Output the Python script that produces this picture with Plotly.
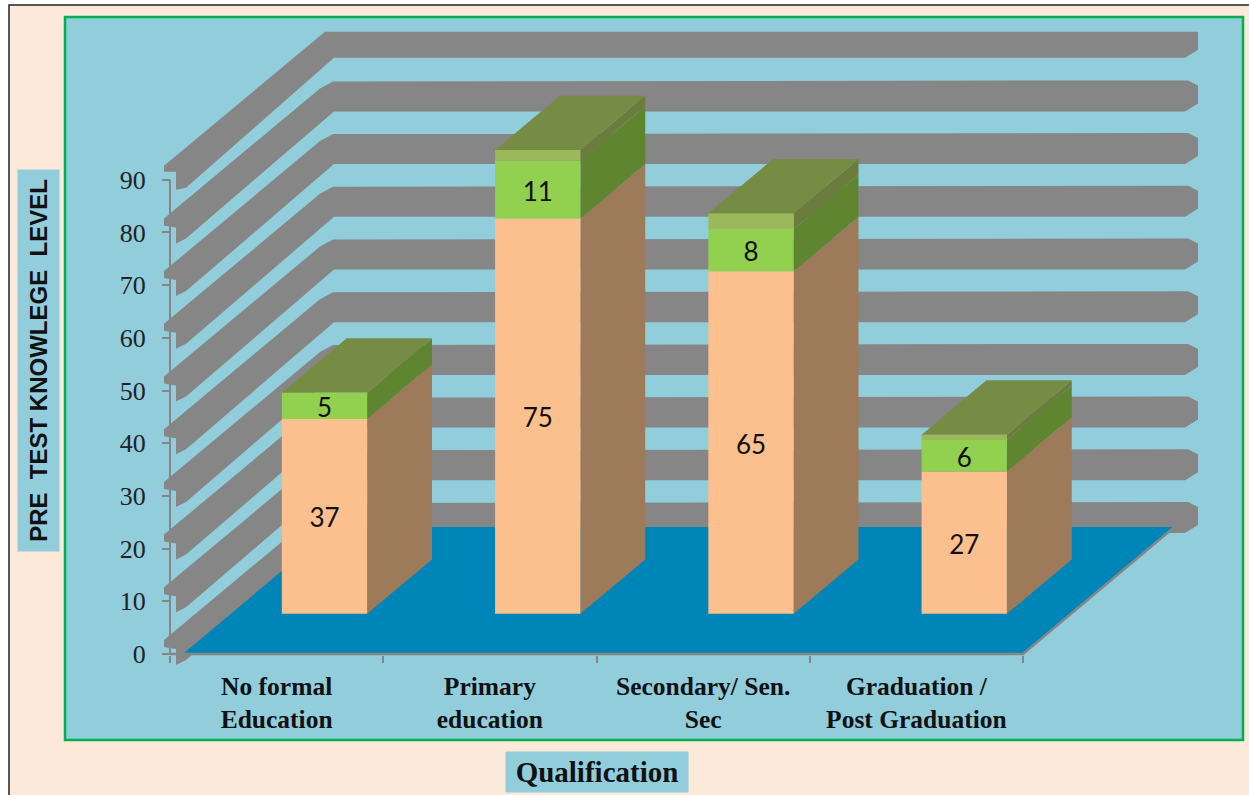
import plotly.graph_objects as go

# Chart data
categories = ["No formal<br>Education", "Primary<br>education",
              "Secondary/ Sen.<br>Sec", "Graduation /<br>Post Graduation"]
series_low = [37, 75, 65, 27]
series_mid = [5, 11, 8, 6]
series_top = [0, 2, 3, 1]
value_ticks = [0, 10, 20, 30, 40, 50, 60, 70, 80, 90]

WIDTH, HEIGHT = 1249, 795
AXIS_LEFT, AXIS_BOTTOM = 170, 654      # where category 0 / value 0 meet on the page
PX_PER_CAT, PX_PER_VAL = 213.25, 5.27  # axis scales

# Oblique projection: depth d runs 0 (front) to 1 (back wall)
DEPTH_X = 151.5 / PX_PER_CAT
DEPTH_Y = 127 / PX_PER_VAL
BAR_D0, BAR_D1 = 0.316, 0.744
BAR_X0, BAR_X1 = 0.30, 0.70
LABEL_DROP = 4.5 / PX_PER_VAL  # nudges value labels onto the optical centre of a segment


def project(c, v, d=0.0):
    return c + DEPTH_X * d, v + DEPTH_Y * d


def poly(points, color):
    xs, ys = zip(*points)
    return go.Scatter(x=list(xs) + [xs[0]], y=list(ys) + [ys[0]], mode="lines",
                      fill="toself", fillcolor=color, line=dict(width=0),
                      hoverinfo="skip", showlegend=False)


# Gridband outline around each tick, as offsets along the two axes
BAND_OUTLINE = [(-6, 14), (150, 144), (163, 151), (1018, 152), (1028, 147),
                (1028, 129), (1015, 121), (164, 121), (16, -6), (6, -11),
                (6, 5), (-6, 7)]
TOP_BAND_OUTLINE = [(-6, 14), (155, 148), (1028, 148), (1028, 130),
                    (1015, 122), (164, 122), (16, -8), (6, -10), (6, 8), (-6, 8)]


def band(level, outline):
    return poly([(dx / PX_PER_CAT, level + dy / PX_PER_VAL) for dx, dy in outline], "#868686")


fig = go.Figure()

for tick in value_ticks:
    outline = TOP_BAND_OUTLINE if tick == value_ticks[-1] else BAND_OUTLINE
    fig.add_trace(band(tick, outline))

# Floor
n = len(categories)
fig.add_trace(poly([project(0.06, 0), project(n, 0), project(n, 0, 1), project(0.06, 0, 1)], "#0085B8"))

# Axis lines and the floor's right edge
fig.add_trace(go.Scatter(x=[0, 0], y=[0, value_ticks[-1]], mode="lines",
                         line=dict(color="#868686", width=2), hoverinfo="skip", showlegend=False))
edge = [project(0, 0), project(n, 0), project(n, 0, 1)]
fig.add_trace(go.Scatter(x=[p[0] for p in edge], y=[p[1] for p in edge], mode="lines",
                         line=dict(color="#868686", width=2.5), hoverinfo="skip", showlegend=False))

# Stacked columns: side faces, front faces, then the lid
FRONT = ["#FCC08E", "#92D050", "#9BB95A"]
SIDE = ["#9C7A5A", "#5F8530", "#6B7C3E"]
LID = "#768C44"

label_x, label_y, label_text = [], [], []
for i in range(n):
    stack = [series_low[i], series_mid[i], series_top[i]]
    base = 0
    x0, x1 = i + BAR_X0, i + BAR_X1
    for seg, value in enumerate(stack):
        top = base + value
        if value > 0:
            fig.add_trace(poly([project(x1, base, BAR_D0), project(x1, base, BAR_D1),
                                project(x1, top, BAR_D1), project(x1, top, BAR_D0)], SIDE[seg]))
            fig.add_trace(poly([project(x0, base, BAR_D0), project(x1, base, BAR_D0),
                                project(x1, top, BAR_D0), project(x0, top, BAR_D0)], FRONT[seg]))
            if seg < 2:
                lx, ly = project((x0 + x1) / 2, base + value / 2, BAR_D0)
                label_x.append(lx)
                label_y.append(ly - LABEL_DROP)
                label_text.append(str(value))
        base = top
    fig.add_trace(poly([project(x0, base, BAR_D0), project(x1, base, BAR_D0),
                        project(x1, base, BAR_D1), project(x0, base, BAR_D1)], LID))

fig.add_trace(go.Scatter(x=label_x, y=label_y, text=label_text, mode="text",
                         textfont=dict(family="Lato", size=26, color="#111111"),
                         hoverinfo="skip", showlegend=False))

PEACH = "#FDE9D9"
PANEL = "#92CDDC"


def px_x(p):
    return p / WIDTH


def px_y(p):
    return 1 - p / HEIGHT


bold_categories = ["<br>".join(f"<b>{part}</b>" for part in c.split("<br>")) for c in categories]

fig.update_layout(
    width=WIDTH, height=HEIGHT, margin=dict(l=0, r=0, t=0, b=0),
    paper_bgcolor="white", plot_bgcolor="rgba(0,0,0,0)", showlegend=False,
    xaxis=dict(
        range=[-AXIS_LEFT / PX_PER_CAT, (WIDTH - AXIS_LEFT) / PX_PER_CAT],
        anchor="free", position=px_y(AXIS_BOTTOM + 1), showgrid=False, zeroline=False, showline=False,
        tickmode="array", tickvals=[i + 0.5 for i in range(n)], ticktext=bold_categories,
        ticks="", ticklabelstandoff=13,
        tickfont=dict(family="Liberation Serif", size=25.5, color="#111111"),
        minor=dict(tickmode="array", tickvals=list(range(n + 1)), ticks="outside",
                   ticklen=7, tickwidth=2, tickcolor="#868686", showgrid=False),
    ),
    yaxis=dict(
        range=[(AXIS_BOTTOM - HEIGHT) / PX_PER_VAL, AXIS_BOTTOM / PX_PER_VAL],
        anchor="free", position=px_x(AXIS_LEFT), showgrid=False, zeroline=False, showline=False,
        tickmode="array", tickvals=value_ticks, ticks="outside", ticklen=8, tickwidth=2,
        tickcolor="#868686", ticklabelstandoff=11,
        tickfont=dict(family="Liberation Serif", size=26, color="#222222"),
    ),
    shapes=[
        dict(type="rect", xref="paper", yref="paper", layer="below",
             x0=px_x(9), x1=px_x(WIDTH + 5), y0=px_y(HEIGHT + 5), y1=px_y(5),
             fillcolor=PEACH, line=dict(color="#222222", width=1.5)),
        dict(type="rect", xref="paper", yref="paper", layer="below",
             x0=px_x(65), x1=px_x(1243), y0=px_y(740), y1=px_y(17),
             fillcolor=PANEL, line=dict(color="#00B050", width=2.5)),
    ],
    annotations=[
        dict(text="<b>PRE\u00a0 TEST KNOWLEGE\u00a0 LEVEL</b>", textangle=-90, showarrow=False,
             xref="paper", yref="paper", x=px_x(38.5), y=px_y(360.5),
             xanchor="center", yanchor="middle", width=379, height=39,
             bgcolor=PANEL, font=dict(family="Liberation Sans", size=24, color="#111111")),
        dict(text="<b>Qualification</b>", showarrow=False,
             xref="paper", yref="paper", x=px_x(597), y=px_y(772),
             xanchor="center", yanchor="middle", width=180, height=38,
             bgcolor=PANEL, font=dict(family="Liberation Serif", size=29, color="#111111")),
    ],
)

fig.write_html("out.html")
